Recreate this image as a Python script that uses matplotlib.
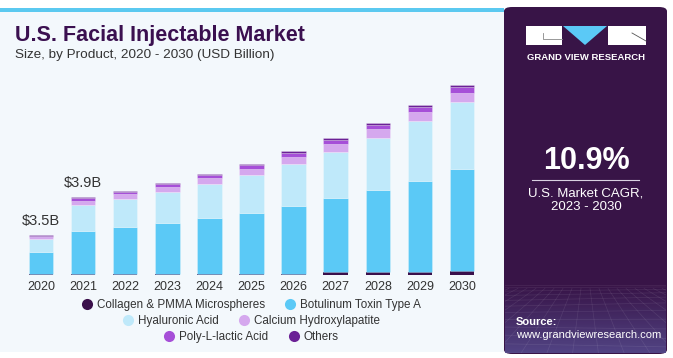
import matplotlib
matplotlib.use("Agg")
import matplotlib.pyplot as plt
import numpy as np
from matplotlib.patches import Rectangle, FancyBboxPatch, Polygon
from matplotlib.lines import Line2D
from matplotlib.colors import LinearSegmentedColormap

plt.rcParams['font.family'] = ['Liberation Sans', 'DejaVu Sans']

# ---- data (USD Billion) ----
years = ["2020", "2021", "2022", "2023", "2024", "2025", "2026", "2027", "2028", "2029", "2030"]
collagen = [0.05, 0.05, 0.085, 0.085, 0.085, 0.085, 0.085, 0.15, 0.15, 0.15, 0.215]
botulinum = [1.115, 2.165, 2.33, 2.515, 2.765, 3.03, 3.38, 3.715, 4.10, 4.58, 5.085]
hyaluronic = [0.65, 1.30, 1.40, 1.58, 1.73, 1.90, 2.115, 2.315, 2.63, 3.00, 3.365]
calcium = [0.10, 0.215, 0.235, 0.25, 0.30, 0.30, 0.335, 0.385, 0.415, 0.415, 0.465]
poly = [0.065, 0.115, 0.115, 0.135, 0.135, 0.185, 0.215, 0.215, 0.215, 0.25, 0.265]
others = [0.035, 0.06, 0.05, 0.05, 0.05, 0.065, 0.065, 0.085, 0.10, 0.135, 0.135]
series_names = ["Collagen & PMMA Microspheres", "Botulinum Toxin Type A", "Hyaluronic Acid",
                "Calcium Hydroxylapatite", "Poly-L-lactic Acid", "Others"]
labels = {0: "$3.5B", 1: "$3.9B"}
cagr = "10.9%"

colors = ["#3a0f4a", "#5bc9f6", "#bfe9fa", "#d5a8ee", "#a64fd8", "#6b2196"]

W, H = 673, 358
fig = plt.figure(figsize=(W / 100, H / 100), dpi=100)
fig.patch.set_facecolor("white")

def fx(x):
    return x / W

def fy(y):
    return 1 - y / H

# background panel
fig.patches.append(Rectangle((fx(0), fy(352)), fx(504), 342 / H, transform=fig.transFigure,
                             facecolor="#f3f8fc", edgecolor="none", zorder=-5))
fig.patches.append(Rectangle((fx(0), fy(12)), fx(504), 4 / H, transform=fig.transFigure,
                             facecolor="#5bc9f0", edgecolor="none", zorder=-4))

# right panel
fig.patches.append(FancyBboxPatch((fx(504), fy(354)), fx(163), 347 / H, transform=fig.transFigure,
                                  boxstyle="round,pad=0,rounding_size=0.012",
                                  facecolor="#381447", edgecolor="none", zorder=-4))
# bottom texture gradient
gax = fig.add_axes([fx(505), fy(353), fx(161), 68 / H])
gax.set_zorder(-3)
grad = np.linspace(0, 1, 100).reshape(-1, 1)
cm = LinearSegmentedColormap.from_list("g", ["#554a8c", "#381447"])
gax.imshow(grad, aspect="auto", cmap=cm, extent=[0, 1, 0, 1], origin="lower", alpha=0.9)
for k in np.linspace(-1.5, 2.5, 26):
    gax.plot([0.5 + (k - 0.5) * 0.35, k], [0.95, 0], color="white", alpha=0.09, lw=0.5)
for t in np.linspace(0.05, 1, 12) ** 1.6:
    gax.plot([0, 1], [1 - t, 1 - t + 0.05 * np.sin(t * 6)], color="white", alpha=0.09, lw=0.5)
gax.set_xlim(0, 1)
gax.set_ylim(0, 1)
gax.axis("off")

# bar axes
base_y = 275.3
ax = fig.add_axes([fx(20), fy(base_y), fx(463), (base_y - 80) / H])
ax.set_facecolor("none")
ax.set_zorder(2)
x = np.arange(len(years))
bottom = np.zeros(len(years))
data = [collagen, botulinum, hyaluronic, calcium, poly, others]
handles = []
for j, (vals, c, name) in enumerate(zip(data, colors, series_names)):
    ax.bar(x, vals, width=0.58, bottom=bottom, color=c,
           edgecolor=(1, 1, 1, 0.35), linewidth=0 if j == 0 else 0.5)
    bottom += np.array(vals)
    handles.append(Line2D([], [], marker="o", linestyle="none", markersize=8,
                          markerfacecolor=c, markeredgecolor="none", label=name))
for i, t in labels.items():
    ax.text(x[i], bottom[i] + 0.35, t, ha="center", va="bottom", fontsize=10.5, color="#333333")
ax.set_xlim(-0.5, len(years) - 0.5)
ax.set_ylim(0, (base_y - 80) / 20.0)
ax.set_xticks(x)
ax.set_xticklabels(years, fontsize=9, color="#333333")
ax.tick_params(axis="x", length=0, pad=4)
ax.set_yticks([])
for s in ax.spines.values():
    s.set_visible(False)

# legend: three centred rows
rows = [(0, 1), (2, 3), (4, 5)]
row_y = [305, 320.7, 336.7]
for r, yy in zip(rows, row_y):
    leg = fig.legend(handles=[handles[r[0]], handles[r[1]]], loc="center",
                     bbox_to_anchor=(fx(251), fy(yy)), ncol=2, frameon=False,
                     fontsize=8.4, handletextpad=0.35, columnspacing=1.7, borderpad=0,
                     handlelength=1.0)
    for t in leg.get_texts():
        t.set_color("#333333")

# titles
fig.text(fx(15), fy(36), "U.S. Facial Injectable Market", fontsize=15.5, fontweight="bold",
         color="#3b1050", ha="left", va="center")
fig.text(fx(15), fy(55), "Size, by Product, 2020 - 2030 (USD Billion)", fontsize=9.7,
         color="#333333", ha="left", va="center")

# logo
fig.patches.append(Rectangle((fx(526), fy(45)), fx(36), 19 / H, transform=fig.transFigure,
                             facecolor="white", edgecolor="none", zorder=3))
fig.patches.append(Rectangle((fx(608), fy(45)), fx(38), 19 / H, transform=fig.transFigure,
                             facecolor="white", edgecolor="none", zorder=3))
fig.patches.append(Polygon([(fx(563), fy(26)), (fx(607), fy(26)), (fx(585), fy(45))],
                           closed=True, transform=fig.transFigure, facecolor="#5bc9f6",
                           edgecolor="none", zorder=3))
fig.lines.append(Line2D([fx(542.5), fx(542.5), fx(562)], [fy(33), fy(38.5), fy(38.5)],
                        transform=fig.transFigure, color="#888888", lw=0.6, zorder=4))
fig.lines.append(Line2D([fx(632), fx(646)], [fy(33), fy(41)],
                        transform=fig.transFigure, color="#555555", lw=0.6, zorder=4))
fig.text(fx(586), fy(57), "GRAND VIEW RESEARCH", fontsize=6.8, fontweight="bold",
         color="white", ha="center", va="center")

# CAGR
fig.text(fx(586), fy(161), cagr, fontsize=22, fontweight="bold", color="white",
         ha="center", va="center")
fig.lines.append(Line2D([fx(532), fx(639)], [fy(179.5), fy(179.5)], transform=fig.transFigure,
                        color="#d8d0e0", lw=0.8, zorder=4))
fig.text(fx(586), fy(193), "U.S. Market CAGR,", fontsize=9.5, color="white",
         ha="center", va="center")
fig.text(fx(586), fy(207), "2023 - 2030", fontsize=9.5, color="white",
         ha="center", va="center")

# source
fig.text(fx(516), fy(322), "Source:", fontsize=8, fontweight="bold", color="white",
         ha="left", va="center")
fig.text(fx(516), fy(335), "www.grandviewresearch.com", fontsize=8, color="white",
         ha="left", va="center")

fig.savefig("out.png", dpi=100, facecolor=fig.get_facecolor())
